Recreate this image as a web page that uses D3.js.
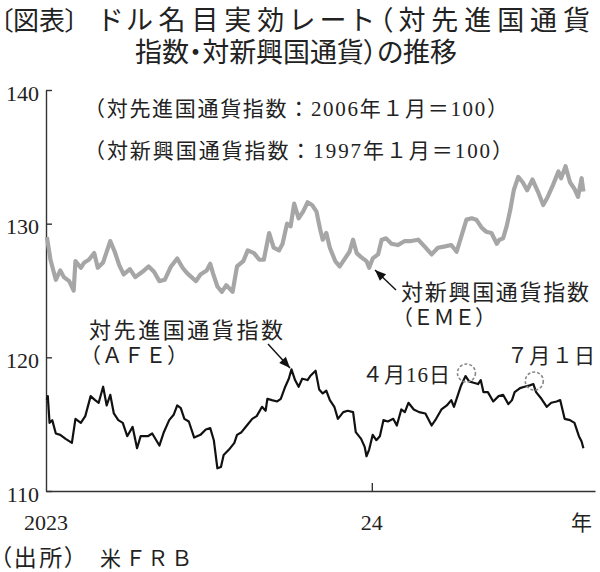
<!DOCTYPE html>
<html><head><meta charset="utf-8">
<script src="https://cdn.jsdelivr.net/npm/d3@7"></script>
<style>
html,body{margin:0;padding:0;background:#fff;}
svg{display:block;}
.cjk{font-family:"Noto Sans CJK JP",sans-serif;font-feature-settings:"palt";}
.ser{font-family:"Liberation Serif","Noto Sans CJK JP",serif;}
</style></head>
<body>
<svg id="c" width="600" height="572"></svg>
<script>
// ---- data ----
const emeDates = ["2023-01-02","2023-01-06","2023-01-12","2023-01-17","2023-01-21","2023-01-27","2023-02-01","2023-02-03","2023-02-09","2023-02-13","2023-02-18","2023-02-24","2023-02-28","2023-03-06","2023-03-14","2023-03-19","2023-03-24","2023-03-29","2023-04-05","2023-04-11","2023-04-19","2023-04-26","2023-05-02","2023-05-08","2023-05-14","2023-05-21","2023-05-28","2023-06-03","2023-06-08","2023-06-18","2023-06-23","2023-06-30","2023-07-04","2023-07-07","2023-07-12","2023-07-17","2023-07-22","2023-07-29","2023-08-03","2023-08-10","2023-08-15","2023-08-22","2023-08-28","2023-09-02","2023-09-08","2023-09-13","2023-09-19","2023-09-23","2023-09-28","2023-10-02","2023-10-06","2023-10-11","2023-10-16","2023-10-21","2023-10-26","2023-10-31","2023-11-04","2023-11-07","2023-11-11","2023-11-15","2023-11-21","2023-11-26","2023-12-02","2023-12-07","2023-12-11","2023-12-15","2023-12-20","2023-12-26","2023-12-29","2024-01-02","2024-01-08","2024-01-12","2024-01-17","2024-01-23","2024-01-30","2024-02-07","2024-02-14","2024-02-22","2024-02-29","2024-03-08","2024-03-15","2024-03-23","2024-03-30","2024-04-05","2024-04-10","2024-04-16","2024-04-22","2024-04-27","2024-05-03","2024-05-08","2024-05-14","2024-05-20","2024-05-23","2024-05-27","2024-05-31","2024-06-04","2024-06-08","2024-06-13","2024-06-18","2024-06-23","2024-06-29","2024-07-05","2024-07-11","2024-07-16","2024-07-22","2024-07-28","2024-07-31","2024-08-05","2024-08-10","2024-08-15","2024-08-19","2024-08-23","2024-08-25"];
const emeValues = [129.0,127.3,125.8,126.5,126.0,125.7,125.0,127.2,126.7,127.1,127.3,127.8,126.7,127.1,128.7,127.9,126.9,126.2,126.6,126.0,126.4,126.8,126.4,125.7,125.8,126.8,127.4,126.7,126.3,125.7,126.2,126.5,127.0,126.3,125.3,124.9,125.4,124.9,126.8,127.2,128.0,127.8,127.3,127.3,129.3,128.2,128.0,128.5,130.0,129.8,131.5,130.4,130.9,131.6,131.4,130.9,129.6,128.8,129.3,128.2,127.2,126.8,127.4,127.9,128.8,127.8,127.5,127.2,126.7,127.4,127.7,128.8,128.9,128.5,128.4,128.7,128.7,128.8,128.3,127.7,128.2,128.3,128.4,127.9,129.0,130.3,130.4,130.3,129.7,129.4,129.3,128.5,128.8,128.9,129.8,131.0,132.5,133.5,133.1,132.5,133.3,132.4,131.4,132.0,132.9,133.9,133.4,134.3,133.1,132.6,132.0,133.4,132.4];

const afeDates = ["2023-01-02","2023-01-03","2023-01-05","2023-01-08","2023-01-12","2023-01-17","2023-01-23","2023-01-30","2023-02-03","2023-02-09","2023-02-14","2023-02-20","2023-02-25","2023-03-01","2023-03-06","2023-03-10","2023-03-14","2023-03-18","2023-03-23","2023-03-28","2023-04-02","2023-04-08","2023-04-13","2023-04-17","2023-04-25","2023-04-30","2023-05-08","2023-05-13","2023-05-19","2023-05-24","2023-05-28","2023-06-01","2023-06-05","2023-06-10","2023-06-16","2023-06-23","2023-06-29","2023-07-04","2023-07-08","2023-07-12","2023-07-16","2023-07-19","2023-07-25","2023-07-31","2023-08-03","2023-08-08","2023-08-14","2023-08-20","2023-08-25","2023-08-31","2023-09-04","2023-09-06","2023-09-11","2023-09-17","2023-09-21","2023-09-26","2023-09-30","2023-10-03","2023-10-07","2023-10-11","2023-10-15","2023-10-21","2023-10-24","2023-10-30","2023-11-03","2023-11-07","2023-11-11","2023-11-15","2023-11-20","2023-11-24","2023-11-30","2023-12-05","2023-12-11","2023-12-14","2023-12-20","2023-12-24","2023-12-26","2023-12-29","2024-01-02","2024-01-06","2024-01-10","2024-01-14","2024-01-19","2024-01-25","2024-01-29","2024-02-03","2024-02-07","2024-02-11","2024-02-17","2024-02-23","2024-03-01","2024-03-08","2024-03-13","2024-03-19","2024-03-25","2024-03-30","2024-04-02","2024-04-07","2024-04-10","2024-04-15","2024-04-19","2024-04-24","2024-04-29","2024-05-02","2024-05-05","2024-05-10","2024-05-16","2024-05-22","2024-05-27","2024-06-02","2024-06-06","2024-06-09","2024-06-15","2024-06-20","2024-06-26","2024-06-30","2024-07-03","2024-07-09","2024-07-15","2024-07-20","2024-07-26","2024-07-30","2024-08-04","2024-08-10","2024-08-15","2024-08-20","2024-08-23","2024-08-25"];
const afeValues = [116.8,117.1,115.1,115.3,114.3,114.2,113.9,113.6,115.4,115.1,115.6,117.1,116.8,116.6,117.8,116.4,117.2,115.8,115.3,115.1,114.1,114.8,113.2,114.1,114.1,114.3,113.4,114.4,115.3,115.7,116.4,116.2,115.4,115.2,114.0,114.2,114.6,114.7,113.8,111.7,111.8,112.7,113.1,113.6,114.2,114.4,114.9,115.4,115.6,116.3,116.0,116.9,116.8,116.7,116.9,117.8,118.4,119.1,118.3,117.8,118.4,118.3,118.6,119.0,117.6,117.3,117.5,116.8,116.3,115.4,115.9,116.0,115.9,114.4,113.9,113.3,112.6,113.1,114.2,113.8,114.1,115.3,115.2,115.4,114.9,116.1,115.9,116.6,116.1,115.9,115.8,114.9,115.4,116.1,116.4,116.8,116.3,117.3,117.9,118.6,118.2,118.1,118.0,118.3,117.4,117.4,116.7,117.1,117.2,116.5,116.8,117.4,117.7,117.8,117.9,118.0,117.4,116.9,116.3,116.6,116.7,116.8,115.4,115.3,115.1,114.1,113.7,113.2];

const yTicks = [110, 120, 130, 140];
const xTickDates = ["2023-01-01", "2024-01-01"];
const xTickLabels = ["2023", "24"];
const xUnitLabel = "年";
const markDates = ["2024-04-16", "2024-07-01"];
const markLabels = ["４月16日", "７月１日"];

// ---- build ----
const parse = d3.timeParse("%Y-%m-%d");
const eme = emeDates.map((d, i) => ({date: parse(d), value: emeValues[i]}));
const afe = afeDates.map((d, i) => ({date: parse(d), value: afeValues[i]}));

const svg = d3.select("#c");
const x = d3.scaleTime().domain([parse("2023-01-01"), parse("2024-09-07")]).range([46, 595]);
const y = d3.scaleLinear().domain([110, 140]).range([491, 90]);
const ink = "#222";

// title
svg.append("text").attr("class", "cjk").attr("x", 0).attr("y", 30)
  .attr("font-size", 26).attr("font-weight", 400).attr("fill", ink).text("〔図表〕");
svg.append("text").attr("class", "cjk").attr("x", 100).attr("y", 30)
  .attr("font-size", 27).attr("font-weight", 400).attr("fill", ink)
  .attr("textLength", 490).attr("lengthAdjust", "spacing")
  .text("ドル名目実効レート（対先進国通貨");
svg.append("text").attr("class", "cjk").attr("x", 135).attr("y", 62)
  .attr("font-size", 27).attr("font-weight", 400).attr("fill", ink)
  .attr("textLength", 322).attr("lengthAdjust", "spacing")
  .text("指数・対新興国通貨）の推移");

// axes
const yAxis = d3.axisLeft(y).tickValues(yTicks).tickSize(-6).tickSizeOuter(0).tickPadding(7);
const gy = svg.append("g").attr("transform", `translate(${x.range()[0]},0)`).call(yAxis);
gy.selectAll("text").attr("class", "ser").attr("font-size", 22).attr("fill", ink).attr("dy", 10);
gy.selectAll("line,path").attr("stroke", "#333").attr("stroke-width", 1.4);

const xAxis = d3.axisBottom(x).tickValues([parse(xTickDates[1])]).tickSize(-8).tickSizeOuter(0).tickFormat("");
const gx = svg.append("g").attr("transform", `translate(0,${y.range()[0]})`).call(xAxis);
gx.selectAll("line,path").attr("stroke", "#333").attr("stroke-width", 1.4);

xTickDates.forEach((d, i) => {
  svg.append("text").attr("class", "ser").attr("x", x(parse(d))).attr("y", 530)
    .attr("text-anchor", "middle").attr("font-size", 22).attr("fill", ink).text(xTickLabels[i]);
});
svg.append("text").attr("class", "cjk").attr("x", x.range()[1] - 3).attr("y", 530)
  .attr("text-anchor", "end").attr("font-size", 21).attr("fill", ink).text(xUnitLabel);

// lines
const line = d3.line().x(d => x(d.date)).y(d => y(d.value));
svg.append("path").datum(eme).attr("d", line).attr("fill", "none")
  .attr("stroke", "#a6a6a6").attr("stroke-width", 4.2).attr("stroke-linejoin", "round");
svg.append("path").datum(afe).attr("d", line).attr("fill", "none")
  .attr("stroke", "#111").attr("stroke-width", 2.2).attr("stroke-linejoin", "round");

// annotation texts
function label(t, x0, y0, len, size) {
  const e = svg.append("text").attr("class", "ser").attr("x", x0).attr("y", y0)
    .attr("font-size", size || 21).attr("fill", ink).text(t);
  if (len) e.attr("textLength", len).attr("lengthAdjust", "spacing");
  return e;
}
label("（対先進国通貨指数：2006年１月＝100）", 84, 116, 424);
label("（対新興国通貨指数：1997年１月＝100）", 84, 158, 429);
label("対新興国通貨指数", 401, 300, 188, 22);
label("（ＥＭＥ）", 392, 325, 104, 21);
label("対先進国通貨指数", 89, 338, 194, 22);
label("（ＡＦＥ）", 80, 363, 108, 21);
label(markLabels[0], 362, 382, 88, 21);
label(markLabels[1], 507, 363, 88, 21);

// arrows
function arrow(x1, y1, x2, y2) {
  svg.append("line").attr("x1", x1).attr("y1", y1).attr("x2", x2).attr("y2", y2)
    .attr("stroke", "#111").attr("stroke-width", 1.4);
  const a = Math.atan2(y2 - y1, x2 - x1), L = 11, W = 4.5;
  const bx = x2 - L * Math.cos(a), by = y2 - L * Math.sin(a);
  const px = -Math.sin(a) * W, py = Math.cos(a) * W;
  svg.append("path").attr("d", `M${x2},${y2}L${bx + px},${by + py}L${bx - px},${by - py}Z`).attr("fill", "#111");
}
arrow(396, 290, 375, 270);
arrow(268, 344, 290, 368);

// dashed circles
const markVals = markDates.map(d => {
  const t = parse(d);
  let best = afe[0];
  afe.forEach(p => { if (Math.abs(p.date - t) < Math.abs(best.date - t)) best = p; });
  return best.value;
});
markDates.forEach((d, i) => {
  svg.append("circle").attr("cx", x(parse(d))).attr("cy", y(markVals[i]) - 3).attr("r", 9)
    .attr("fill", "none").attr("stroke", "#888").attr("stroke-width", 1.6).attr("stroke-dasharray", "3,2");
});

// source
svg.append("text").attr("class", "cjk").attr("x", 0).attr("y", 566)
  .attr("font-size", 23).attr("fill", ink).attr("textLength", 76).attr("lengthAdjust", "spacing").text("（出所）");
svg.append("text").attr("class", "cjk").attr("x", 100).attr("y", 566)
  .attr("font-size", 21).attr("fill", ink).attr("textLength", 90).attr("lengthAdjust", "spacing").text("米ＦＲＢ");
</script>
</body></html>
